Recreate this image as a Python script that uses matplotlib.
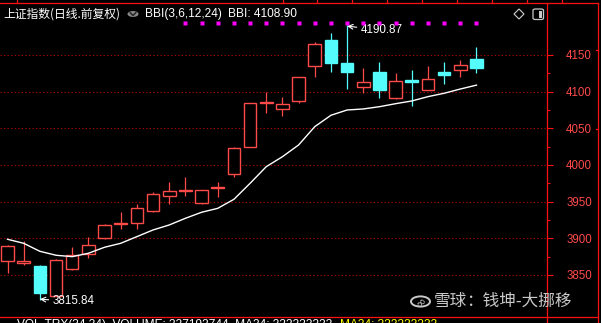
import matplotlib
matplotlib.use("Agg")
import matplotlib.pyplot as plt
from matplotlib.lines import Line2D
from matplotlib.patches import Circle, Polygon, FancyBboxPatch, Rectangle
import numpy as np

plt.rcParams['font.family'] = ['Liberation Sans', 'Noto Sans CJK SC', 'DejaVu Sans']

# ---------------- data ----------------
opens  = [3869.5, 3866.0, 3862.3, 3821.8, 3857.8, 3878.2, 3900.0, 3919.5, 3920.5, 3937.7,
          3957.3, 3964.0, 3947.8, 3968.3, 3987.3, 4025.0, 4084.3, 4076.8, 4086.9, 4134.6,
          4170.5, 4139.1, 4106.0, 4126.4, 4091.0, 4115.9, 4102.7, 4126.8, 4130.0, 4144.5]
closes = [3889.5, 3868.7, 3825.9, 3870.0, 3876.9, 3890.9, 3918.2, 3921.0, 3941.0, 3960.5,
          3964.1, 3965.6, 3965.9, 3969.8, 4022.8, 4084.1, 4085.8, 4083.2, 4119.6, 4165.0,
          4139.5, 4127.2, 4112.8, 4102.7, 4114.5, 4113.2, 4117.3, 4122.7, 4136.4, 4132.7]
highs  = [3891.3, 3896.8, 3864.0, 3871.5, 3887.8, 3901.4, 3919.5, 3935.5, 3946.8, 3962.8,
          3976.8, 3983.6, 3966.5, 3976.8, 4025.0, 4085.0, 4099.1, 4092.3, 4120.0, 4167.7,
          4180.0, 4190.87, 4131.9, 4140.5, 4125.9, 4129.5, 4135.0, 4140.5, 4143.2, 4161.3]
lows   = [3852.3, 3863.6, 3815.84, 3821.0, 3856.5, 3872.8, 3898.5, 3912.3, 3912.7, 3936.3,
          3946.4, 3958.1, 3947.0, 3956.8, 3984.0, 4024.0, 4070.5, 4067.2, 4084.1, 4120.4,
          4127.2, 4104.0, 4097.8, 4091.8, 4090.0, 4080.9, 4102.0, 4110.5, 4120.4, 4125.9]
bbi    = [3898.7, 3893.2, 3882.3, 3876.9, 3875.0, 3879.6, 3887.8, 3893.2, 3902.3, 3911.4,
          3918.2, 3927.3, 3935.5, 3940.9, 3953.2, 3975.0, 3997.7, 4011.3, 4027.3, 4052.3,
          4067.8, 4075.0, 4076.4, 4079.5, 4083.6, 4087.3, 4093.2, 4097.8, 4103.6, 4108.9]
marker_level = 4193.0
marker_start = 11
y_ticks = [3850, 3900, 3950, 4000, 4050, 4100, 4150]
y_minor = [3875, 3925, 3975, 4025, 4075, 4125]

title_cn = "上证指数(日线.前复权)"
ind_name = "BBI(3,6,12,24)"
ind_val = "BBI: 4108.90"
hi_label = "4190.87"
lo_label = "3815.84"
wm_a = "雪球"
wm_b = "：钱坤-大挪移"

# ---------------- style ----------------
RED = '#ff4a4a'
CYAN = '#55fcfc'
AXRED = '#ff1010'
GRID = '#c00000'

W, H = 601, 323
fig = plt.figure(figsize=(W / 100, H / 100), dpi=100, facecolor='black')

def fx(x):
    return x / W

def fy(y):
    return 1 - y / H

ax = fig.add_axes([0, fy(317), 547 / W, (317 - 3) / H])
ax.set_facecolor('black')
for s in ax.spines.values():
    s.set_visible(False)

x = np.arange(len(opens))
o = np.array(opens); c = np.array(closes); h = np.array(highs); l = np.array(lows)
up = c >= o
cols = np.where(up, RED, CYAN)
body_lo = np.minimum(o, c)
body_hi = np.maximum(o, c)

# gridlines
for t in y_ticks:
    ax.axhline(t, color=GRID, lw=0.8, linestyle=(0, (1, 2.2)), zorder=1)

# wicks
ax.vlines(x, l, body_lo, colors=cols, lw=0.9, zorder=2)
ax.vlines(x, body_hi, h, colors=cols, lw=0.9, zorder=2)
# bodies
heights = np.maximum(body_hi - body_lo, 0.3)
ax.bar(x, heights, bottom=body_lo, width=0.78,
       facecolor=np.where(up, 'black', CYAN), edgecolor=cols, linewidth=1.0, zorder=3)

# BBI line
ax.plot(x, bbi, color='white', lw=1.0, zorder=4)

# magenta dots
mx = x[marker_start:]
ax.plot(mx, [marker_level] * len(mx), linestyle='none', marker='s', ms=2.2,
        color='#ff00ff', mec='none', zorder=4)

# annotations
ax.annotate(hi_label, xy=(21, highs[21] - 1.5), xytext=(21.85, 4184.0),
            color='white', fontsize=8.4, va='center', ha='left',
            arrowprops=dict(arrowstyle='->', color='white', lw=0.8,
                            shrinkA=1, shrinkB=0))
ax.annotate(lo_label, xy=(2, 3817.0), xytext=(2.8, 3814.0),
            color='white', fontsize=8.4, va='center', ha='left',
            arrowprops=dict(arrowstyle='->', color='white', lw=0.8,
                            shrinkA=1, shrinkB=0))

ax.set_xlim(-0.464, 33.36)
ax.set_ylim(3792.7, 4220.9)
ax.set_xticks([])
ax.yaxis.tick_right()
ax.set_yticks(y_ticks)
ax.set_yticks(y_minor, minor=True)
ax.set_yticklabels([str(t) for t in y_ticks])
ax.tick_params(axis='y', which='major', direction='out', length=4.3, width=0.8,
               color=AXRED, labelcolor=RED, labelsize=8.3, pad=9.5)
ax.tick_params(axis='y', which='minor', direction='out', length=2.2, width=0.8,
               color=AXRED)

# ---------------- frame lines ----------------
def fline(xs, ys, color=AXRED, lw=0.9):
    fig.add_artist(Line2D([fx(v) for v in xs], [fy(v) for v in ys],
                          color=color, lw=lw, transform=fig.transFigure))

fline([0, 598], [3.3, 3.3])
for tx in [17, 283, 317, 352, 387, 422, 457, 492, 527, 562]:
    fline([tx, tx], [0, 3.3])
fline([547.3, 547.3], [3.3, 323])
fline([598.3, 598.3], [3.3, 323])
fline([0, 598], [317, 317])
for ty in [50, 129]:
    fline([596, 598.3], [ty, ty])

# ---------------- header ----------------
fig.text(fx(3), fy(14), title_cn, color='white', fontsize=8.5,
         family=['Noto Sans CJK SC', 'DejaVu Sans'], va='center', ha='left')
fig.add_artist(Circle((fx(133), fy(14)), 5.5 / W, transform=fig.transFigure,
                      facecolor='#8a8a8a', edgecolor='none'))
fig.add_artist(Line2D([fx(130.3), fx(133), fx(135.7)], [fy(12.8), fy(15.5), fy(12.8)],
                      color='#2a2a2a', lw=1.2, transform=fig.transFigure))
fig.text(fx(145.5), fy(14), ind_name, color='white', fontsize=8.6, va='center', ha='left')
fig.text(fx(228), fy(14), ind_val, color='white', fontsize=8.6, va='center', ha='left')

# icons top right
fig.add_artist(Polygon([(fx(519), fy(9)), (fx(524), fy(14)), (fx(519), fy(19)), (fx(514), fy(14))],
                       closed=True, facecolor='none', edgecolor='#d0d0d0', lw=0.8,
                       transform=fig.transFigure))
fig.add_artist(FancyBboxPatch((fx(533), fy(19.5)), 10.5 / W, 10.5 / H,
                              boxstyle='round,pad=0,rounding_size=0.004',
                              facecolor='none', edgecolor='#c8c8c8', lw=0.9,
                              transform=fig.transFigure))
fig.add_artist(Rectangle((fx(538.5), fy(17.5)), 3 / W, 6.5 / H, facecolor='#c8c8c8',
                         edgecolor='none', transform=fig.transFigure))

# ---------------- watermark ----------------
fig.add_artist(Circle((fx(420.5), fy(301.5)), 9.5 / W, transform=fig.transFigure,
                      facecolor='none', edgecolor='#c8c8c8', lw=1.4))
fig.text(fx(420.5), fy(301.5), "∞", color='#c8c8c8', fontsize=9, rotation=45,
         ha='center', va='center', family='DejaVu Sans')
fig.text(fx(434), fy(301), wm_a, color='#c8c8c8', fontsize=12,
         family=['Noto Sans CJK SC', 'DejaVu Sans'], va='center', ha='left')
fig.text(fx(466), fy(301), wm_b, color='#c8c8c8', fontsize=12,
         family=['Noto Sans CJK SC', 'DejaVu Sans'], va='center', ha='left')

# ---------------- bottom partial text ----------------
fig.add_artist(Circle((fx(8), fy(326)), 5.5 / W, transform=fig.transFigure,
                      facecolor='#8a8a8a', edgecolor='none'))
fig.text(fx(17), fy(319), "VOL-TRX(34,34)  VOLUME: 337193744  MA34: 333333333",
         color='white', fontsize=8.6, va='top', ha='left')
fig.text(fx(340), fy(319), "MA34: 333333333", color='#ffff00', fontsize=8.6,
         va='top', ha='left')

fig.savefig('out.png', dpi=100, facecolor='black')
